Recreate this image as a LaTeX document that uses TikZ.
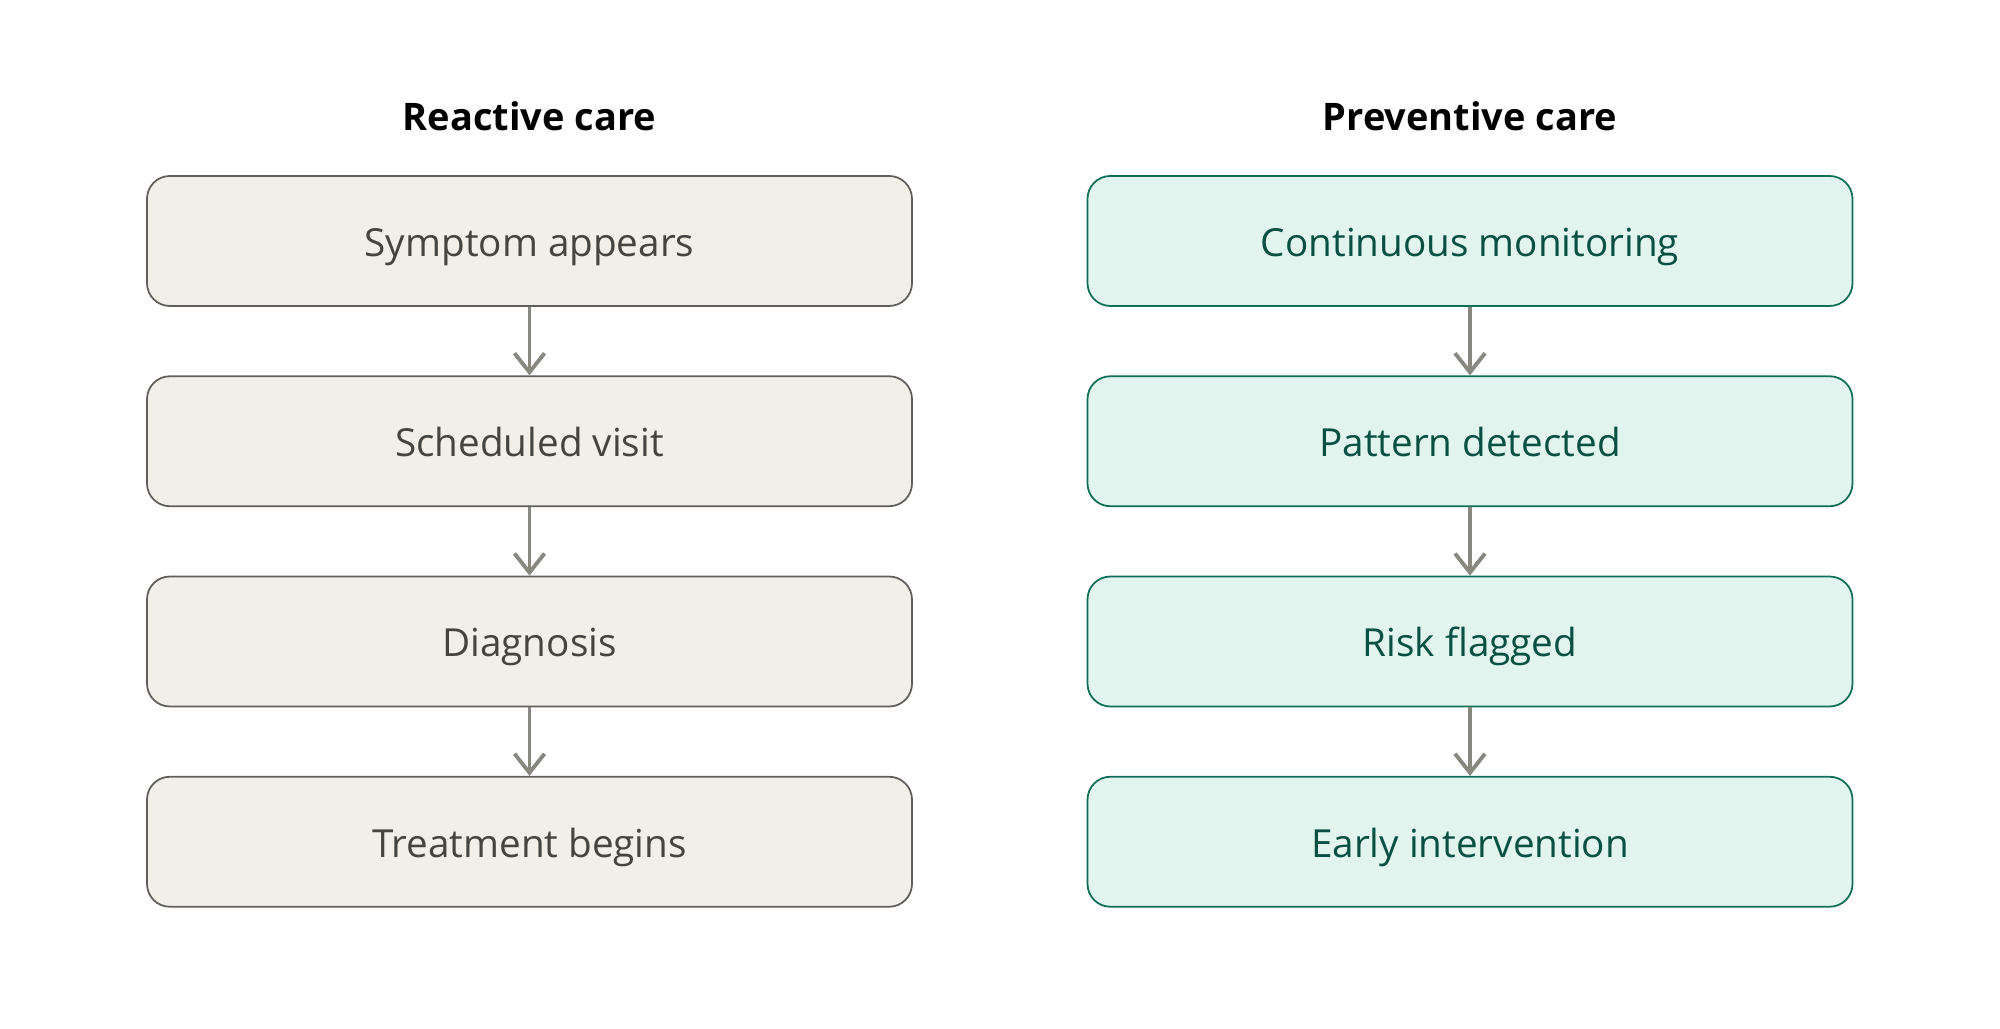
\documentclass[tikz,border=0pt]{standalone}
\usepackage{fontspec}
\setmainfont{Open Sans}
\usetikzlibrary{arrows.meta}
\usetikzlibrary{positioning}

\definecolor{reactfill}{HTML}{F1EFE8}
\definecolor{reactline}{HTML}{5F5E5A}
\definecolor{reacttext}{HTML}{444441}
\definecolor{prevfill}{HTML}{E1F5EE}
\definecolor{prevline}{HTML}{0F6E56}
\definecolor{prevtext}{HTML}{085041}
\definecolor{flowgray}{HTML}{888780}

\begin{document}
\begin{tikzpicture}[
    stepnode/.style={minimum width=7.65cm, minimum height=1.30cm, rounded corners=6.5pt,
      line width=0.5pt, text height=1.9ex, text depth=0.26ex,
      font=\fontsize{11}{13}\selectfont},
    reactbox/.style={stepnode, draw=reactline, fill=reactfill, text=reacttext},
    prevbox/.style={stepnode, draw=prevline, fill=prevfill, text=prevtext},
    heading/.style={font=\fontsize{10.8}{13}\selectfont\bfseries, text=black},
    flow/.style={-{Straight Barb[length=1.9mm, width=3mm]}, flowgray, line width=1.1pt},
    node distance=0.685cm]
        \useasboundingbox (0,0) rectangle (20,-10.29);
        % reactive column
        \node [heading] (rtitle) at (5.295,-1.16) {Reactive care};
        \node [reactbox] (r1) at (5.295,-2.41) {Symptom appears};
        \node [reactbox, below=of r1] (r2) {Scheduled visit};
        \node [reactbox, below=of r2] (r3) {Diagnosis};
        \node [reactbox, below=of r3] (r4) {Treatment begins};
        % preventive column
        \node [heading] (ptitle) at (14.70,-1.16) {Preventive care};
        \node [prevbox] (p1) at (14.70,-2.41) {Continuous monitoring};
        \node [prevbox, below=of p1] (p2) {Pattern detected};
        \node [prevbox, below=of p2] (p3) {Risk flagged};
        \node [prevbox, below=of p3] (p4) {Early intervention};
        \foreach \a/\b in {r1/r2, r2/r3, r3/r4, p1/p2, p2/p3, p3/p4}
          \draw [flow] (\a) -- (\b);
\end{tikzpicture}
\end{document}
